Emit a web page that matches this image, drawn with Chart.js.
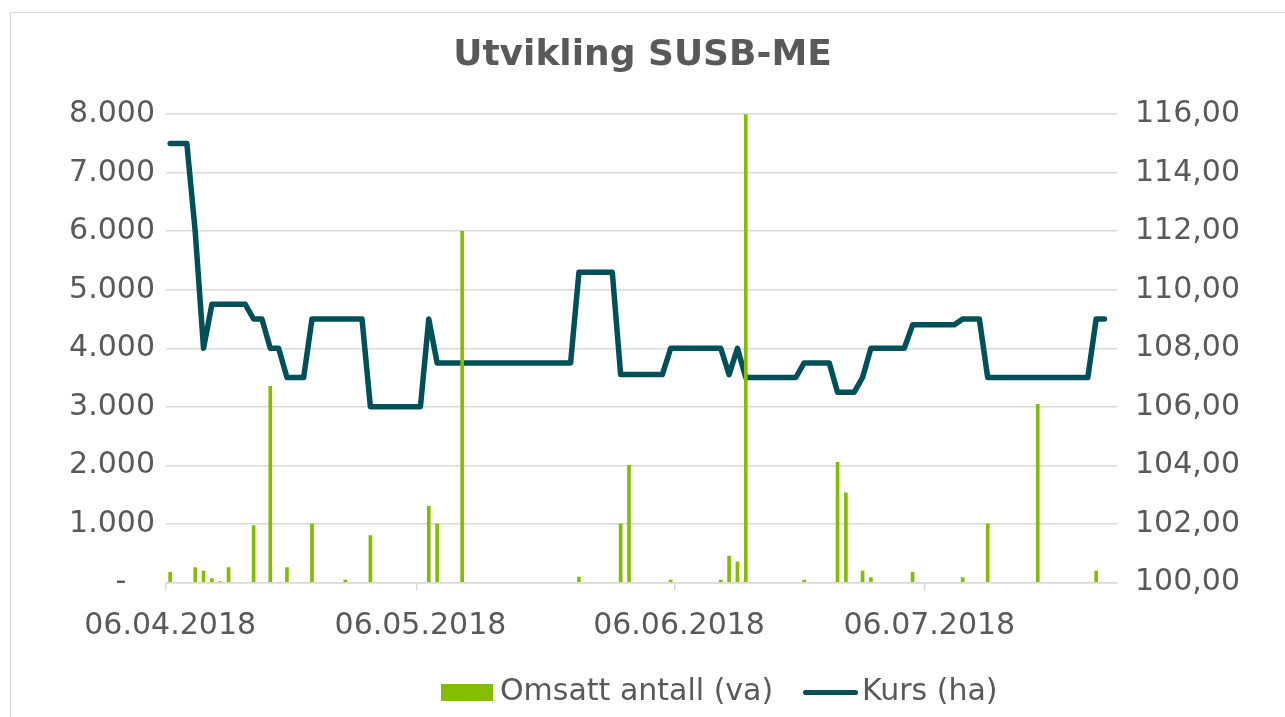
<!DOCTYPE html>
<html>
<head>
<meta charset="utf-8">
<script src="https://cdn.jsdelivr.net/npm/chart.js@4"></script>
<style>
  html, body { margin: 0; padding: 0; background: #fff; overflow: hidden; }
  #wrap { position: relative; width: 1285px; height: 717px; }
  #frame { position: absolute; left: 10px; top: 12px; width: 1300px; height: 720px; border: 1.5px solid #d9d9d9; }
  canvas { position: absolute; left: 0; top: 0; }
  .legend { position: absolute; top: 672px; height: 40px; line-height: 40px; font: 30px "DejaVu Sans"; color: #595959; white-space: nowrap; }
  .swatch { position: absolute; }
</style>
</head>
<body>
<div id="wrap">
  <div id="frame"></div>
  <canvas id="chart" width="1285" height="717"></canvas>
  <div class="swatch" style="left:441px; top:684px; width:52px; height:17px; background:#84bc00;"></div>
  <div class="legend" style="left:500px;">Omsatt antall (va)</div>
  <div class="swatch" style="left:803px; top:689.5px; width:55px; height:5.5px; border-radius:3px; background:#00505a;"></div>
  <div class="legend" style="left:862px;">Kurs (ha)</div>
</div>
<script>
// x axis: one category per calendar day, 06.04.2018 - 28.07.2018
const startDay = [2018, 3, 6];
const dayCount = 114;
const tickLabels = ['06.04.2018', '06.05.2018', '06.06.2018', '06.07.2018'];

// Kurs (ha), one value per calendar day from 06.04.2018
const kurs = [
  115, 115, 115, 112, 108, 109.5, 109.5, 109.5, 109.5, 109.5,
  109, 109, 108, 108, 107, 107, 107, 109, 109, 109,
  109, 109, 109, 109, 106, 106, 106, 106, 106, 106,
  106, 109, 107.5, 107.5, 107.5, 107.5, 107.5, 107.5, 107.5, 107.5,
  107.5, 107.5, 107.5, 107.5, 107.5, 107.5, 107.5, 107.5, 107.5, 110.6,
  110.6, 110.6, 110.6, 110.6, 107.1, 107.1, 107.1, 107.1, 107.1, 107.1,
  108, 108, 108, 108, 108, 108, 108, 107.1, 108, 107,
  107, 107, 107, 107, 107, 107, 107.5, 107.5, 107.5, 107.5,
  106.5, 106.5, 106.5, 107, 108, 108, 108, 108, 108, 108.8,
  108.8, 108.8, 108.8, 108.8, 108.8, 109, 109, 109, 107, 107,
  107, 107, 107, 107, 107, 107, 107, 107, 107, 107,
  107, 109, 109
];

// Omsatt antall (va)
const volDates = [
  '06.04.2018', '09.04.2018', '10.04.2018', '11.04.2018', '12.04.2018', '13.04.2018',
  '16.04.2018', '18.04.2018', '20.04.2018', '23.04.2018', '27.04.2018', '30.04.2018',
  '07.05.2018', '08.05.2018', '11.05.2018', '25.05.2018', '30.05.2018', '31.05.2018',
  '05.06.2018', '11.06.2018', '12.06.2018', '13.06.2018', '14.06.2018', '21.06.2018',
  '25.06.2018', '26.06.2018', '28.06.2018', '29.06.2018', '04.07.2018', '10.07.2018',
  '13.07.2018', '19.07.2018', '26.07.2018'
];
const volValues = [
  170, 250, 190, 65, 10, 250,
  970, 3350, 250, 1000, 40, 800,
  1300, 1000, 6000, 90, 1000, 2000,
  40, 40, 450, 350, 8000, 40,
  2050, 1530, 190, 80, 170, 80,
  1000, 3040, 190
];

function fmtDate(d) {
  const dd = String(d.getUTCDate()).padStart(2, '0');
  const mm = String(d.getUTCMonth() + 1).padStart(2, '0');
  return dd + '.' + mm + '.' + d.getUTCFullYear();
}
const labels = [];
for (let i = 0; i < dayCount; i++) {
  labels.push(fmtDate(new Date(Date.UTC(startDay[0], startDay[1], startDay[2] + i))));
}

const textColor = '#595959';
const gridColor = '#d9d9d9';
const font = { family: 'DejaVu Sans', size: 30 };

new Chart(document.getElementById('chart'), {
  type: 'bar',
  data: {
    labels: labels,
    datasets: [
      {
        label: 'Omsatt antall (va)',
        data: volDates.map((d, i) => ({ x: d, y: volValues[i] })),
        backgroundColor: '#84bc00',
        borderWidth: 0,
        barThickness: 3,
        yAxisID: 'y'
      },
      {
        type: 'line',
        label: 'Kurs (ha)',
        data: kurs,
        borderColor: '#00505a',
        backgroundColor: '#00505a',
        borderWidth: 5.5,
        pointRadius: 0,
        tension: 0,
        borderJoinStyle: 'round',
        borderCapStyle: 'round',
        yAxisID: 'y1'
      }
    ]
  },
  options: {
    responsive: false,
    animation: false,
    layout: { padding: { bottom: 52 } },
    plugins: {
      title: {
        display: true,
        text: 'Utvikling SUSB-ME',
        color: textColor,
        font: { family: 'DejaVu Sans', size: 36, weight: 'bold' },
        padding: { top: 34, bottom: 37 }
      },
      legend: { display: false },
      tooltip: { enabled: false }
    },
    scales: {
      x: {
        offset: true,
        afterFit: (s) => { s.height = 82.7; },
        grid: {
          offset: true,
          drawOnChartArea: false,
          drawTicks: true,
          tickLength: 8,
          lineWidth: 1.5,
          color: (ctx) => tickLabels.includes(labels[ctx.index]) ? gridColor : 'rgba(0,0,0,0)'
        },
        border: { display: true, color: gridColor, width: 1.5 },
        ticks: {
          autoSkip: false,
          maxRotation: 0,
          minRotation: 0,
          color: textColor,
          font: font,
          padding: 18,
          callback: function (v, i) {
            const l = labels[i];
            return tickLabels.includes(l) ? l : '';
          }
        }
      },
      y: {
        position: 'left',
        min: 0,
        max: 8000,
        afterFit: (s) => { s.width = 166; },
        grid: { color: gridColor, lineWidth: 1.5, drawTicks: false },
        border: { display: false },
        ticks: {
          stepSize: 1000,
          color: textColor,
          font: font,
          padding: 11,
          callback: (v) => v === 0 ? '-   ' : String(v).replace(/\B(?=(\d{3})+(?!\d))/g, '.')
        }
      },
      y1: {
        position: 'right',
        min: 100,
        max: 116,
        afterFit: (s) => { s.width = 168; },
        grid: { display: false, drawOnChartArea: false },
        border: { display: false },
        ticks: {
          stepSize: 2,
          color: textColor,
          font: font,
          padding: 10,
          callback: (v) => v.toFixed(2).replace('.', ',')
        }
      }
    }
  }
});
</script>
</body>
</html>
